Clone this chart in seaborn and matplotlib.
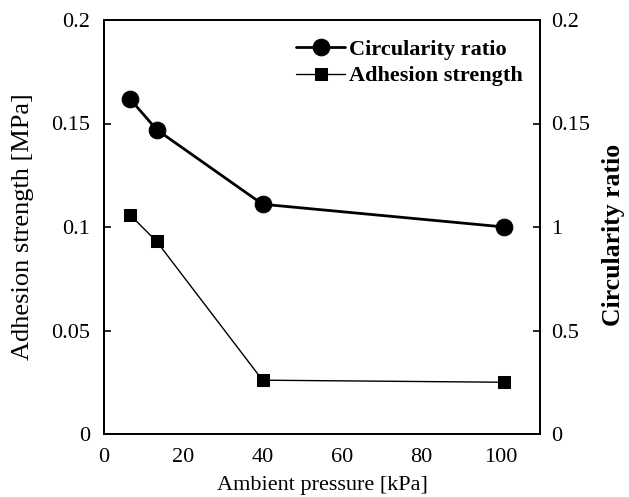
import matplotlib
matplotlib.use("Agg")
import matplotlib.pyplot as plt
import seaborn as sns
import pandas as pd

pressure = [6.5, 13.3, 40, 101]
circularity = [1.62, 1.47, 1.11, 1.00]
adhesion = [0.106, 0.093, 0.026, 0.025]
x_ticks = [0, 20, 40, 60, 80, 100]
left_ticks = [0, 0.05, 0.1, 0.15, 0.2]
left_labels = ["0", "0.05", "0.1", "0.15", "0.2"]
right_ticks = [0, 0.5, 1, 1.5, 2]
right_labels = ["0", "0.5", "1", "0.15", "0.2"]

sns.set_theme(style="white")
plt.rcParams['font.family'] = ['Liberation Serif', 'DejaVu Serif']
plt.rcParams['axes.labelcolor'] = 'black'
plt.rcParams['text.color'] = 'black'

df = pd.DataFrame({"p": pressure, "c": circularity, "a": adhesion})

fig = plt.figure(figsize=(6.29, 4.97), dpi=100)
ax = fig.add_axes([104/629, 63/497, 436/629, 414/497])
ax2 = ax.twinx()

sns.lineplot(data=df, x="p", y="a", ax=ax, color="black", marker="s",
             markersize=9, linewidth=1.0, markeredgecolor="black",
             label="Adhesion strength", legend=False)
sns.lineplot(data=df, x="p", y="c", ax=ax2, color="black", marker="o",
             markersize=12, linewidth=2.0, markeredgecolor="black",
             label="Circularity ratio", legend=False)

ax.set_xlim(0, 110)
ax.set_ylim(0, 0.2)
ax2.set_ylim(0, 2)
ax.set_xticks(x_ticks)
ax.set_yticks(left_ticks)
ax.set_yticklabels(left_labels)
ax2.set_yticks(right_ticks)
ax2.set_yticklabels(right_labels)

for a in (ax, ax2):
    for s in a.spines.values():
        s.set_color("black")
        s.set_linewidth(1.3)
    a.tick_params(direction="in", length=5, width=1.2, colors="black",
                  labelsize=16, pad=9)
ax.tick_params(axis="x", top=False, pad=10)
ax2.tick_params(axis="y", right=True, left=False, pad=8)
ax.tick_params(axis="y", left=True, right=False, pad=10)

ax.set_xlabel("Ambient pressure [kPa]", fontsize=16, color="black")
ax.set_ylabel("Adhesion strength [MPa]", fontsize=19, color="black")
ax2.set_ylabel("Circularity ratio", fontsize=18.5, fontweight="bold", color="black")
ax.xaxis.set_label_coords(0.5, -0.102)
ax.yaxis.set_label_coords(-0.160, 0.5)
ax2.yaxis.set_label_coords(1.142, 0.48)

h2, l2 = ax2.get_legend_handles_labels()
h1, l1 = ax.get_legend_handles_labels()
leg = ax.legend(h2 + h1, l2 + l1, loc="upper left", bbox_to_anchor=(0.405, 0.99),
                frameon=False, prop={"weight": "bold", "size": 16},
                handlelength=2.2, handletextpad=0.2, labelspacing=0.25,
                borderpad=0.2)

fig.savefig("out.png", dpi=100)
